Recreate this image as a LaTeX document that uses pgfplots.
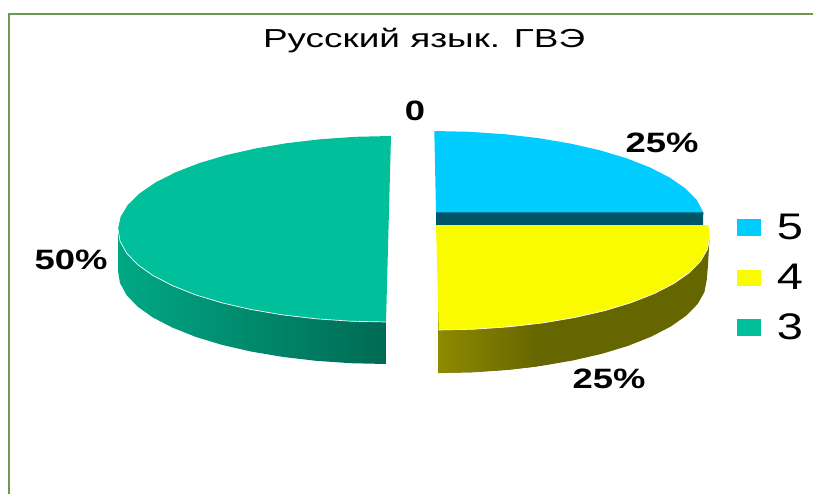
\documentclass[border=0pt]{standalone}
\usepackage{pgfplots}
\pgfplotsset{compat=1.18}
\usepackage{fontspec}
\setmainfont{Liberation Sans}
\definecolor{frame}{HTML}{6E9A50}
\definecolor{blueT}{HTML}{00CCFF}
\definecolor{blueD}{HTML}{005468}
\definecolor{yelT}{HTML}{FBFB00}
\definecolor{yelD}{HTML}{666600}
\definecolor{yelL}{HTML}{8F8A00}
\definecolor{teaT}{HTML}{00BF9A}
\definecolor{teaL}{HTML}{00A884}
\definecolor{teaD}{HTML}{006A54}
\newcommand{\lab}[1]{{\fontsize{28}{30}\selectfont\bfseries #1}}
\newcommand{\leg}[1]{{\fontsize{37}{40}\selectfont #1}}
\begin{document}
\begin{tikzpicture}
\begin{axis}[
  hide axis, scale only axis, width=813pt, height=493pt,
  xmin=0, xmax=813, ymin=0, ymax=493, y dir=reverse,
  every axis plot/.append style={mark=none, forget plot}
]
% frame
\addplot[draw=frame, line width=2pt] coordinates {(9.3,500) (9.3,14) (820,14)};
% 3: teal side and top
\addplot[draw=none, left color=teaL, right color=teaD] coordinates {
 (118,229) (118,271) (120,283.1) (126.6,295.1) (137.6,306.6) (152.95,317.5) (172.4,327.6)
 (195.4,336.8) (221.8,344.8) (250.9,351.5) (282.7,356.9) (316.1,360.8) (350.7,363.2) (386,364) (386,322)} -- cycle;
\addplot[fill=teaT, draw=none] coordinates {
 (391,136) (355.7,136.8) (320.9,139.2) (287.3,143.1) (255.4,148.5) (225.8,155.2) (199,163.2)
 (175.4,172.4) (155.45,182.5) (139.6,193.4) (127.8,204.9) (120.6,216.9) (118,229)
 (120,241.1) (126.6,253.1) (137.6,264.6) (152.95,275.5) (172.4,285.6) (195.4,294.8)
 (221.8,302.8) (250.9,309.5) (282.7,314.9) (316.1,318.8) (350.7,321.2) (386,322)} -- cycle;
\addplot[draw=white, line width=0.7pt] coordinates {
 (118,229) (120,241.1) (126.6,253.1) (137.6,264.6) (152.95,275.5) (172.4,285.6) (195.4,294.8)
 (221.8,302.8) (250.9,309.5) (282.7,314.9) (316.1,318.8) (350.7,321.2) (386,322)};
% 5: blue band and top
\addplot[fill=blueD, draw=none] coordinates {(436,212) (703.3,212) (703,225.5) (436,225.5)} -- cycle;
\addplot[fill=blueT, draw=none] coordinates {
 (434.3,131) (469.7,131.8) (504.6,134.2) (538.3,138.1) (570.15,143.5) (599.7,150.2) (626.4,158.2)
 (649.85,167.4) (669.6,177.5) (685.3,188.4) (696.75,199.9) (703.3,212.3) (436,212.3)} -- cycle;
% 4: yellow side and top
\addplot[fill=yelD, draw=none] coordinates {
 (438.7,300) (709.7,237) (709,247) (708,265) (706.7,280) (704.4,292.1) (697.6,304.1) (686.3,315.6)
 (670.8,326.5) (651.3,336.6) (628.2,345.8) (601.9,353.8) (572.7,360.5) (541.3,365.9)
 (508.1,369.8) (473.7,372.2) (438.7,373)} -- cycle;
\addplot[draw=none, left color=yelL, right color=yelD] coordinates {
 (438.7,300) (537,300) (537,366.5) (508.1,369.8) (473.7,372.2) (438.7,373)} -- cycle;
\addplot[fill=yelT, draw=none] coordinates {
 (436,225) (708,225) (709.3,231) (709.7,237) (707.5,249.1) (700.6,261.1) (689.4,272.6) (673.8,283.5)
 (654.1,293.6) (630.7,302.8) (604.1,310.8) (574.7,317.5) (542.9,322.9) (508.9,326.8)
 (474,329.2) (438.7,330)} -- cycle;
\addplot[draw=white, line width=0.7pt] coordinates {
 (709.7,237) (707.5,249.1) (700.6,261.1) (689.4,272.6) (673.8,283.5)
 (654.1,293.6) (630.7,302.8) (604.1,310.8) (574.7,317.5) (542.9,322.9) (508.9,326.8)
 (474,329.2) (438.7,330)};
% legend swatches
\addplot[fill=blueT, draw=none] coordinates {(737,219) (761,219) (761,236) (737,236)} -- cycle;
\addplot[fill=yelT, draw=none] coordinates {(737,269.5) (761,269.5) (761,286) (737,286)} -- cycle;
\addplot[fill=teaT, draw=none] coordinates {(737,319) (761,319) (761,336) (737,336)} -- cycle;
% text
\node[xscale=1.42] at (axis cs:424,41) {\fontsize{26}{28}\selectfont Русский язык. ГВЭ};
\node[xscale=1.3] at (axis cs:415,111) {\lab{0}};
\node[xscale=1.3] at (axis cs:662,143) {\lab{25\%}};
\node[xscale=1.3] at (axis cs:71,260) {\lab{50\%}};
\node[xscale=1.3] at (axis cs:609,379) {\lab{25\%}};
\node[xscale=1.27] at (axis cs:790,227) {\leg{5}};
\node[xscale=1.27] at (axis cs:790,277) {\leg{4}};
\node[xscale=1.27] at (axis cs:790,327) {\leg{3}};
\end{axis}
\path (0,0) rectangle (813pt,493pt);
\end{tikzpicture}
\end{document}
